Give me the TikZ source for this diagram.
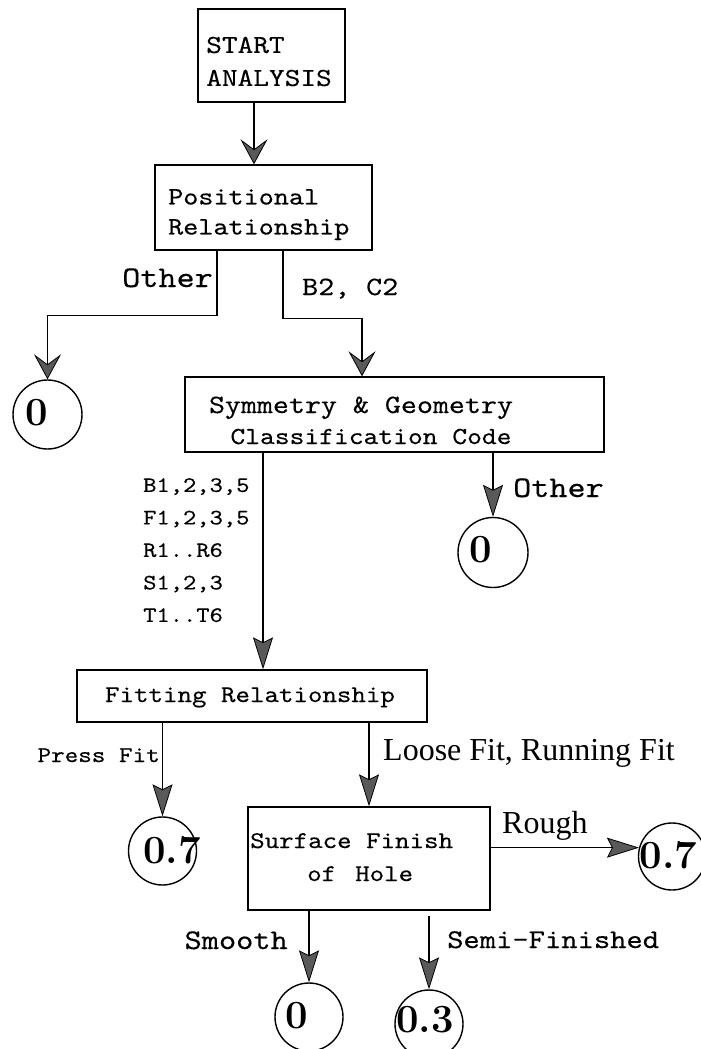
\documentclass[tikz,border=0pt]{standalone}
\usepackage{fontspec}
\newfontfamily\mytt[FakeStretch=1.15,FakeBold=0.3]{lmmono10-regular.otf}
\newfontfamily\timesf{Liberation Serif}
\usetikzlibrary{arrows.meta}
\begin{document}
\begin{tikzpicture}[x=1pt,y=-1pt,
  box/.style={draw, line width=1.4pt, inner sep=0pt, rectangle},
  ring/.style={draw, circle, line width=1.4pt, inner sep=0pt},
  conn/.style={line width=1.4pt},
  arrW/.style={conn, -{Stealth[length=25pt,width=27pt,inset=10pt,fill=black!65,line width=0.8pt]}},
  arrN/.style={conn, -{Stealth[length=32pt,width=20pt,inset=5pt,fill=black!65,line width=0.8pt]}},
  tt/.style={font={\mytt\fontsize{#1}{#1}\selectfont}, inner sep=0pt},
  serif/.style={font={\timesf\fontsize{#1}{#1}\selectfont}, inner sep=0pt},
  dig/.style={font={\rmfamily\bfseries\fontsize{40}{40}\selectfont}, inner sep=0pt}
]
\fill[white] (0,0) rectangle (701,1049);
\useasboundingbox (0,0) rectangle (701,1049);

% boxes
\node[box, minimum width=147pt, minimum height=93pt] (start) at (271.5,55.5) {};
\node[box, minimum width=217pt, minimum height=85pt] (pos) at (263.5,207.5) {};
\node[box, minimum width=419pt, minimum height=75pt] (sym) at (394.5,414.5) {};
\node[box, minimum width=350pt, minimum height=52pt] (fit) at (252,696) {};
\node[box, minimum width=242pt, minimum height=103pt] (surf) at (369,858.5) {};

% box texts
\node[font={\mytt\fontsize{26}{33}\selectfont}, inner sep=0pt, align=left] (startT) at (269,61.5) {START\\ANALYSIS};
\node[font={\mytt\fontsize{25}{30}\selectfont}, inner sep=0pt, align=left, anchor=north west] (posT) at (168,189) {Positional\\Relationship};
\node[tt=26.5, anchor=base] (symT1) at (361,413) {Symmetry \& Geometry};
\node[tt=24.5, anchor=base] (symT2) at (371,444) {Classification Code};
\node[tt=24, anchor=base] (fitT) at (250,702) {Fitting Relationship};
\node[tt=24, anchor=base west] (surfT1) at (250,848) {Surface Finish};
\node[tt=24, anchor=base west] (surfT2) at (307,881) {of\hspace{19pt}Hole};

% circles
\node[ring, minimum size=69pt] (z1) at (47.5,414.5) {};
\node[ring, minimum size=70pt] (z2) at (493,552.5) {};
\node[ring, minimum size=68pt] (c07a) at (162.5,851) {};
\node[ring, minimum size=67pt] (c07b) at (672,856.5) {};
\node[ring, minimum size=68pt] (z3) at (309,1017) {};
\node[ring, minimum size=68pt] (c03) at (429,1024) {};

\node[dig] (z1T) at (37,413) {0};
\node[dig] (z2T) at (481,550) {0};
\node[dig] (c07aT) at (172,850) {0.7};
\node[dig] (c07bT) at (668.5,855) {0.7};
\node[dig] (z3T) at (297,1016) {0};
\node[dig] (c03T) at (425,1020) {0.3};

% connectors
\draw[arrW] ([xshift=-17.5pt]start.south) -- ([xshift=-9.5pt]pos.north);
\draw[arrW] ([xshift=-46.5pt]pos.south) -- ++(0,65) -| (z1.north);
\draw[arrW] ([xshift=19.5pt]pos.south) -- ++(0,68) -| ([xshift=-32.5pt]sym.north);
\draw[arrN] ([xshift=-131.5pt]sym.south) -- ([xshift=11pt]fit.north);
\draw[arrN] (sym.south -| z2.north) -- (z2.north);
\draw[arrN] (fit.south -| c07a.north) -- (c07a.north);
\draw[arrN] (fit.south -| surf.north) -- (surf.north);
\draw[arrN] (surf.east |- c07b.165) -- (c07b.165);
\draw[arrN] (surf.south -| z3.north) -- (z3.north);
\draw[arrN] (surf.south -| c03.north) ++(0,5) -- (c03.north);

% labels
\node[tt=30, anchor=base east] (lOther1) at (213,287) {Other};
\node[tt=26.5, anchor=base west] (lB2) at (302,295) {B2, C2};
\node[tt=30, anchor=base west] (lOther2) at (513,497) {Other};
\node[font={\mytt\fontsize{22}{32.5}\selectfont}, align=left, anchor=north west, inner sep=0pt] (lcodes) at (143,478) {B1,2,3,5\\F1,2,3,5\\R1..R6\\S1,2,3\\T1..T6};
\node[tt=22.5, anchor=base east] (lPress) at (160,762) {Press Fit};
\node[serif=32, anchor=base west] (lLoose) at (383,760) {Loose Fit, Running Fit};
\node[serif=32, anchor=base west] (lRough) at (502,833) {Rough};
\node[tt=28.5, anchor=base east] (lSmooth) at (288,949) {Smooth};
\node[tt=27, anchor=base west] (lSemi) at (447,948) {Semi-Finished};
\end{tikzpicture}
\end{document}
